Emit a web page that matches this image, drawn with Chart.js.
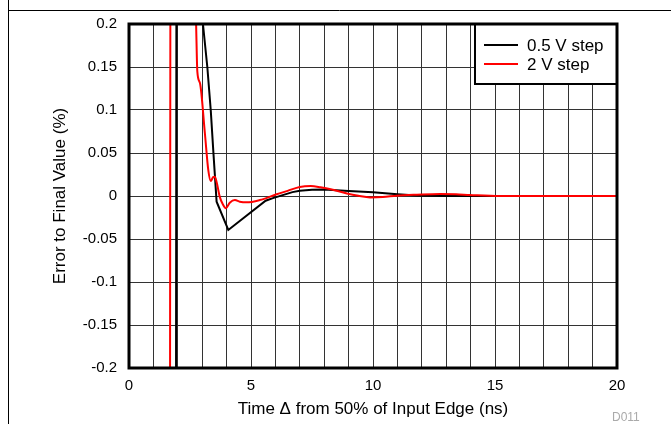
<!DOCTYPE html>
<html>
<head>
<meta charset="utf-8">
<script src="https://cdn.jsdelivr.net/npm/chart.js@4/dist/chart.umd.min.js"></script>
<style>
  html, body { margin: 0; padding: 0; background: #fff; }
  #wrap { width: 671px; height: 424px; position: relative; }
</style>
</head>
<body>
<div id="wrap"><canvas id="c" width="671" height="424"></canvas></div>
<script>
// time axis (ns) and error (%)
var blackTime = [1.90, 1.97, 2.6, 3.0, 3.03, 3.21, 3.35, 3.46, 3.59, 4.07, 5.6, 5.9, 6.3, 6.7, 7.0, 7.5, 8.0, 9.0, 10.0, 11.0, 11.8, 13, 15, 17, 20];
var blackErr  = [-1, 1, 1, 0.23, 0.2, 0.15, 0.1, 0.05, -0.0066, -0.0395, -0.0055, -0.0025, 0.001, 0.0045, 0.006, 0.0072, 0.0075, 0.0058, 0.0043, 0.002, 0.0005, 0, 0, 0, 0];

var redTime = [1.66, 1.73, 2.3, 2.72, 2.75, 2.80, 2.91, 3.11, 3.25, 3.35, 3.45, 3.52, 3.6, 3.72, 3.85, 3.97, 4.13, 4.34, 4.54, 4.82, 5.36, 6.05, 6.5, 7.0, 7.45, 7.85, 8.4, 8.93, 9.4, 9.88, 10.4, 10.97, 11.8, 12.75, 13.4, 13.97, 15.2, 17, 20];
var redErr  = [-1, 1, 1, 0.23, 0.2, 0.145, 0.131, 0.073, 0.030, 0.0174, 0.022, 0.0225, 0.015, -0.001, -0.01, -0.0143, -0.0078, -0.0047, -0.0066, -0.0074, -0.0047, 0.002, 0.006, 0.0105, 0.0116, 0.0101, 0.007, 0.003, 0.0003, -0.0016, -0.0012, 0.0004, 0.0015, 0.0023, 0.002, 0.0012, 0, 0, 0];

var seriesNames = ['0.5 V step', '2 V step'];
var xTicks = [0, 5, 10, 15, 20];

function toPoints(xs, ys) {
    return xs.map(function (x, i) { return {x: x, y: ys[i]}; });
}

var FONT = 'Liberation Sans, Arial, sans-serif';

var frame = {
    id: 'frame',
    beforeDraw: function (chart) {
        var ctx = chart.ctx;
        ctx.save();
        ctx.fillStyle = '#fff';
        ctx.fillRect(0, 0, chart.width, chart.height);
        ctx.strokeStyle = '#000';
        ctx.lineWidth = 1;
        ctx.beginPath();
        ctx.moveTo(8.5, 0);
        ctx.lineTo(8.5, chart.height);
        ctx.moveTo(8, 10.5);
        ctx.lineTo(chart.width, 10.5);
        ctx.stroke();
        ctx.fillStyle = '#aaa';
        ctx.font = '12px ' + FONT;
        ctx.textAlign = 'left';
        ctx.textBaseline = 'middle';
        ctx.fillText('D011', 612, 418);
        ctx.restore();
    },
    afterDatasetsDraw: function (chart) {
        var ctx = chart.ctx, a = chart.chartArea;
        ctx.save();
        // legend box, top right inside the plot
        var bx = 475, by = a.top, bw = a.right - 475, bh = 84 - a.top;
        ctx.fillStyle = '#fff';
        ctx.fillRect(bx, by, bw, bh);
        ctx.strokeStyle = '#000';
        ctx.lineWidth = 2;
        ctx.strokeRect(bx, by, bw, bh);
        var ds = chart.data.datasets;
        ctx.font = '17px ' + FONT;
        ctx.textBaseline = 'middle';
        ctx.textAlign = 'left';
        for (var i = 0; i < ds.length; i++) {
            var yy = 45 + i * 19;
            ctx.strokeStyle = ds[i].borderColor;
            ctx.lineWidth = 2;
            ctx.beginPath();
            ctx.moveTo(484, yy);
            ctx.lineTo(518, yy);
            ctx.stroke();
            ctx.fillStyle = '#000';
            ctx.fillText(ds[i].label, 527, yy + 1);
        }
        // heavy plot border
        ctx.lineWidth = 3;
        ctx.strokeStyle = '#000';
        ctx.strokeRect(a.left, a.top, a.right - a.left, a.bottom - a.top);
        ctx.restore();
    }
};

new Chart(document.getElementById('c'), {
    type: 'scatter',
    data: {
        datasets: [{
            label: seriesNames[0],
            data: toPoints(blackTime, blackErr),
            borderColor: '#000000',
            borderWidth: 2,
            showLine: true,
            pointRadius: 0,
            tension: 0,
            order: 2
        }, {
            label: seriesNames[1],
            data: toPoints(redTime, redErr),
            borderColor: '#ff0000',
            borderWidth: 2,
            showLine: true,
            pointRadius: 0,
            cubicInterpolationMode: 'monotone',
            order: 1
        }]
    },
    options: {
        responsive: false,
        animation: false,
        layout: { padding: { left: 0, top: 24, right: 54, bottom: 0 } },
        plugins: { legend: { display: false }, tooltip: { enabled: false } },
        scales: {
            x: {
                type: 'linear',
                min: 0, max: 20,
                afterFit: function (s) { s.height = 56; },
                grid: { color: '#333', lineWidth: 1, drawTicks: false },
                border: { display: false },
                ticks: {
                    stepSize: 1, autoSkip: false, maxRotation: 0, padding: 9,
                    color: '#000', font: { family: FONT, size: 15 },
                    callback: function (v) { return xTicks.indexOf(v) >= 0 ? String(v) : ''; }
                },
                title: {
                    display: true, text: 'Time \u0394 from 50% of Input Edge (ns)',
                    color: '#000', font: { family: FONT, size: 17 },
                    padding: { top: 0, bottom: 4 }
                }
            },
            y: {
                min: -0.2, max: 0.2,
                afterFit: function (s) { s.width = 129; },
                grid: { color: '#333', lineWidth: 1, drawTicks: false },
                border: { display: false },
                ticks: {
                    stepSize: 0.05, padding: 12,
                    color: '#000', font: { family: FONT, size: 15 },
                    callback: function (v) { var r = Math.round(v * 100) / 100; return String(r === 0 ? 0 : r); }
                },
                title: {
                    display: true, text: 'Error to Final Value (%)',
                    color: '#000', font: { family: FONT, size: 17 },
                    padding: { top: 50, bottom: 0 }
                }
            }
        }
    },
    plugins: [frame]
});
</script>
</body>
</html>
